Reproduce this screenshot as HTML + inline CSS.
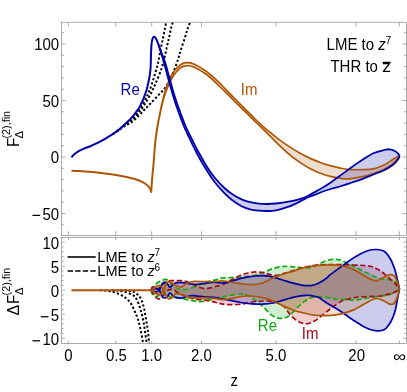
<!DOCTYPE html>
<html><head><meta charset="utf-8"><title>plot</title>
<style>html,body{margin:0;padding:0;background:#fff}svg{display:block}</style></head>
<body>
<svg width="407" height="392" viewBox="0 0 407 392">
<defs><clipPath id="cu"><rect x="61.5" y="22.2" width="344.9" height="213.3"/></clipPath><clipPath id="cl"><rect x="61.5" y="237.4" width="344.9" height="106"/></clipPath></defs>
<rect width="407" height="392" fill="#fff"/>
<g clip-path="url(#cu)" fill="none" stroke-linejoin="round" stroke-linecap="butt">
<path d="M161.60 105.70 C161.97 104.08 163.05 98.90 163.80 96.00 C164.55 93.10 165.15 91.05 166.10 88.30 C167.05 85.55 168.08 82.47 169.50 79.50 C170.92 76.53 172.68 73.00 174.60 70.50 C176.52 68.00 179.10 65.82 181.00 64.50 C182.90 63.18 183.87 62.68 186.00 62.60 C188.13 62.52 190.38 62.52 193.80 64.00 C197.22 65.48 202.25 68.38 206.50 71.50 C210.75 74.62 216.22 79.85 219.30 82.70 C222.38 85.55 222.35 85.88 225.00 88.60 C227.65 91.32 231.80 95.55 235.20 99.00 C238.60 102.45 242.00 105.88 245.40 109.30 C248.80 112.72 252.20 116.25 255.60 119.50 C259.00 122.75 263.40 126.68 265.80 128.80 C268.20 130.92 267.60 130.27 270.00 132.20 C272.40 134.13 276.80 137.87 280.20 140.40 C283.60 142.93 287.00 145.22 290.40 147.40 C293.80 149.58 297.20 151.63 300.60 153.50 C304.00 155.37 307.40 157.07 310.80 158.60 C314.20 160.13 317.60 161.48 321.00 162.70 C324.40 163.92 327.80 164.97 331.20 165.90 C334.60 166.83 338.27 167.68 341.40 168.30 C344.53 168.92 346.43 169.38 350.00 169.60 C353.57 169.82 358.90 169.73 362.80 169.60 C366.70 169.47 369.85 169.57 373.40 168.80 C376.95 168.03 380.88 166.53 384.10 165.00 C387.32 163.47 390.38 161.00 392.70 159.60 C395.02 158.20 396.83 157.13 398.00 156.60 C399.17 156.07 399.42 156.43 399.70 156.40 L399.70 156.40 C399.42 156.75 399.17 157.25 398.00 158.50 C396.83 159.75 395.02 162.12 392.70 163.90 C390.38 165.68 387.32 167.60 384.10 169.20 C380.88 170.80 376.95 172.25 373.40 173.50 C369.85 174.75 366.70 175.82 362.80 176.70 C358.90 177.58 353.57 178.50 350.00 178.80 C346.43 179.10 344.53 178.85 341.40 178.50 C338.27 178.15 334.60 177.53 331.20 176.70 C327.80 175.87 324.40 174.78 321.00 173.50 C317.60 172.22 314.20 170.77 310.80 169.00 C307.40 167.23 304.00 165.17 300.60 162.90 C297.20 160.63 293.80 158.18 290.40 155.40 C287.00 152.62 283.60 149.43 280.20 146.20 C276.80 142.97 272.40 138.40 270.00 136.00 C267.60 133.60 268.20 134.17 265.80 131.80 C263.40 129.43 259.00 125.12 255.60 121.80 C252.20 118.48 248.80 115.22 245.40 111.90 C242.00 108.58 238.60 105.28 235.20 101.90 C231.80 98.52 227.65 94.25 225.00 91.60 C222.35 88.95 222.38 88.85 219.30 86.00 C216.22 83.15 210.75 77.67 206.50 74.50 C202.25 71.33 197.22 68.45 193.80 67.00 C190.38 65.55 188.13 65.72 186.00 65.80 C183.87 65.88 182.83 66.22 181.00 67.50 C179.17 68.78 176.83 71.08 175.00 73.50 C173.17 75.92 171.42 79.25 170.00 82.00 C168.58 84.75 167.50 87.42 166.50 90.00 C165.50 92.58 164.82 94.88 164.00 97.50 C163.18 100.12 162.00 104.33 161.60 105.70 Z" fill="#ad5606" fill-opacity="0.2" stroke="none"/>
<path d="M158.40 44.30 C158.75 45.28 159.70 48.02 160.53 50.20 C161.36 52.38 162.45 54.85 163.37 57.40 C164.29 59.95 165.10 62.32 166.05 65.50 C167.00 68.68 167.73 71.75 169.05 76.50 C170.37 81.25 172.28 88.58 173.95 94.00 C175.62 99.42 177.12 103.67 179.05 109.00 C180.98 114.33 183.63 121.43 185.55 126.00 C187.47 130.57 188.40 132.07 190.55 136.40 C192.70 140.73 195.66 146.83 198.47 152.00 C201.28 157.17 204.66 163.07 207.41 167.40 C210.16 171.73 212.17 174.57 215.00 178.00 C217.83 181.43 221.57 185.33 224.40 188.00 C227.23 190.67 229.13 192.10 232.00 194.00 C234.87 195.90 238.60 198.03 241.60 199.40 C244.60 200.77 247.13 201.50 250.00 202.20 C252.87 202.90 255.97 203.30 258.80 203.60 C261.63 203.90 264.13 204.02 267.00 204.00 C269.87 203.98 272.63 203.87 276.00 203.50 C279.37 203.13 283.70 202.42 287.20 201.80 C290.70 201.18 294.13 200.52 297.00 199.80 C299.87 199.08 301.90 198.53 304.40 197.50 C306.90 196.47 309.13 195.13 312.00 193.60 C314.87 192.07 318.48 190.17 321.60 188.30 C324.72 186.43 327.40 184.65 330.70 182.40 C334.00 180.15 337.85 177.37 341.40 174.80 C344.95 172.23 348.43 169.53 352.00 167.00 C355.57 164.47 359.23 161.90 362.80 159.60 C366.37 157.30 369.85 154.80 373.40 153.20 C376.95 151.60 381.42 150.65 384.10 150.00 C386.78 149.35 387.72 149.13 389.50 149.30 C391.28 149.47 393.33 150.25 394.80 151.00 C396.27 151.75 397.48 152.90 398.30 153.80 C399.12 154.70 399.47 155.97 399.70 156.40 L399.70 156.40 C399.25 157.12 398.17 159.27 397.00 160.70 C395.83 162.13 394.85 163.40 392.70 165.00 C390.55 166.60 387.32 168.72 384.10 170.30 C380.88 171.88 376.95 173.08 373.40 174.50 C369.85 175.92 366.37 177.47 362.80 178.80 C359.23 180.13 355.57 181.30 352.00 182.50 C348.43 183.70 344.95 184.92 341.40 186.00 C337.85 187.08 334.00 188.00 330.70 189.00 C327.40 190.00 324.72 190.85 321.60 192.00 C318.48 193.15 314.87 194.72 312.00 195.90 C309.13 197.08 306.90 197.92 304.40 199.10 C301.90 200.28 299.87 201.65 297.00 203.00 C294.13 204.35 290.70 205.97 287.20 207.20 C283.70 208.43 279.37 209.77 276.00 210.40 C272.63 211.03 269.87 210.97 267.00 211.00 C264.13 211.03 261.63 210.88 258.80 210.60 C255.97 210.32 252.87 210.02 250.00 209.30 C247.13 208.58 244.60 207.85 241.60 206.30 C238.60 204.75 234.87 202.18 232.00 200.00 C229.13 197.82 227.23 196.12 224.40 193.20 C221.57 190.28 217.90 186.23 215.00 182.50 C212.10 178.77 209.90 175.47 206.99 170.80 C204.08 166.13 200.45 159.93 197.53 154.50 C194.61 149.07 191.63 142.70 189.45 138.20 C187.27 133.70 186.37 132.12 184.45 127.50 C182.53 122.88 179.88 115.92 177.95 110.50 C176.02 105.08 174.52 100.50 172.85 95.00 C171.18 89.50 169.27 82.30 167.95 77.50 C166.63 72.70 165.84 69.47 164.95 66.20 C164.06 62.93 163.41 60.50 162.63 57.90 C161.85 55.30 160.98 52.87 160.27 50.60 C159.56 48.33 158.71 45.35 158.40 44.30 Z" fill="#0000aa" fill-opacity="0.2" stroke="none"/>
<path d="M112.80 134.10 C113.85 133.35 116.98 131.25 119.10 129.60 C121.22 127.95 123.37 126.03 125.50 124.20 C127.63 122.37 129.77 120.80 131.90 118.60 C134.03 116.40 136.18 113.97 138.30 111.00 C140.42 108.03 142.92 103.80 144.60 100.80 C146.28 97.80 147.20 95.75 148.40 93.00 C149.60 90.25 150.47 88.30 151.80 84.30 C153.13 80.30 155.38 72.43 156.40 69.00 C157.42 65.57 157.23 66.80 157.90 63.70 C158.57 60.60 159.55 54.65 160.40 50.40 C161.25 46.15 162.23 41.93 163.00 38.20 C163.77 34.47 164.47 30.70 165.00 28.00 C165.53 25.30 166.00 23.00 166.20 22.00" stroke="#000" stroke-width="2" stroke-dasharray="2.2 2.1"/>
<path d="M112.80 134.10 C113.85 133.37 116.98 131.27 119.10 129.70 C121.22 128.13 123.37 126.32 125.50 124.70 C127.63 123.08 129.77 121.92 131.90 120.00 C134.03 118.08 136.18 115.78 138.30 113.20 C140.42 110.62 142.50 107.78 144.60 104.50 C146.70 101.22 149.10 96.95 150.90 93.50 C152.70 90.05 153.65 87.88 155.40 83.80 C157.15 79.72 159.88 73.37 161.40 69.00 C162.92 64.63 163.57 61.37 164.50 57.60 C165.43 53.83 166.23 49.80 167.00 46.40 C167.77 43.00 168.42 40.27 169.10 37.20 C169.78 34.13 170.48 30.53 171.10 28.00 C171.72 25.47 172.52 23.00 172.80 22.00" stroke="#000" stroke-width="2" stroke-dasharray="2.2 2.1"/>
<path d="M112.80 134.10 C113.85 133.40 116.98 131.33 119.10 129.90 C121.22 128.47 123.37 126.82 125.50 125.50 C127.63 124.18 129.77 123.55 131.90 122.00 C134.03 120.45 136.18 118.28 138.30 116.20 C140.42 114.12 142.65 111.53 144.60 109.50 C146.55 107.47 147.92 106.17 150.00 104.00 C152.08 101.83 154.58 99.18 157.10 96.50 C159.62 93.82 162.82 90.98 165.10 87.90 C167.38 84.82 169.15 81.32 170.80 78.00 C172.45 74.68 173.70 71.40 175.00 68.00 C176.30 64.60 177.63 60.60 178.60 57.60 C179.57 54.60 179.77 53.27 180.80 50.00 C181.83 46.73 183.68 41.50 184.80 38.00 C185.92 34.50 186.58 31.67 187.50 29.00 C188.42 26.33 189.83 23.17 190.30 22.00" stroke="#000" stroke-width="2" stroke-dasharray="2.2 2.1"/>
<path d="M71.50 170.70 C72.58 170.75 75.82 170.88 78.00 171.00 C80.18 171.12 81.45 171.17 84.60 171.40 C87.75 171.63 92.82 171.98 96.90 172.40 C100.98 172.82 105.02 173.32 109.10 173.90 C113.18 174.48 117.30 175.08 121.40 175.90 C125.50 176.72 130.42 177.90 133.70 178.80 C136.98 179.70 139.05 180.40 141.10 181.30 C143.15 182.20 144.57 183.10 146.00 184.20 C147.43 185.30 148.82 186.60 149.70 187.90 C150.58 189.20 151.03 191.32 151.30 192.00" stroke="#ad5606" stroke-width="2"/>
<path d="M151.20 192.00 C151.37 189.67 151.80 182.83 152.20 178.00 C152.60 173.17 153.05 169.33 153.60 163.00 C154.15 156.67 154.77 146.57 155.50 140.00 C156.23 133.43 156.98 129.32 158.00 123.60 C159.02 117.88 161.00 108.68 161.60 105.70" stroke="#ad5606" stroke-width="2" stroke-linecap="round"/>
<path d="M161.60 105.70 C161.97 104.08 163.05 98.90 163.80 96.00 C164.55 93.10 165.15 91.05 166.10 88.30 C167.05 85.55 168.08 82.47 169.50 79.50 C170.92 76.53 172.68 73.00 174.60 70.50 C176.52 68.00 179.10 65.82 181.00 64.50 C182.90 63.18 183.87 62.68 186.00 62.60 C188.13 62.52 190.38 62.52 193.80 64.00 C197.22 65.48 202.25 68.38 206.50 71.50 C210.75 74.62 216.22 79.85 219.30 82.70 C222.38 85.55 222.35 85.88 225.00 88.60 C227.65 91.32 231.80 95.55 235.20 99.00 C238.60 102.45 242.00 105.88 245.40 109.30 C248.80 112.72 252.20 116.25 255.60 119.50 C259.00 122.75 263.40 126.68 265.80 128.80 C268.20 130.92 267.60 130.27 270.00 132.20 C272.40 134.13 276.80 137.87 280.20 140.40 C283.60 142.93 287.00 145.22 290.40 147.40 C293.80 149.58 297.20 151.63 300.60 153.50 C304.00 155.37 307.40 157.07 310.80 158.60 C314.20 160.13 317.60 161.48 321.00 162.70 C324.40 163.92 327.80 164.97 331.20 165.90 C334.60 166.83 338.27 167.68 341.40 168.30 C344.53 168.92 346.43 169.38 350.00 169.60 C353.57 169.82 358.90 169.73 362.80 169.60 C366.70 169.47 369.85 169.57 373.40 168.80 C376.95 168.03 380.88 166.53 384.10 165.00 C387.32 163.47 390.38 161.00 392.70 159.60 C395.02 158.20 396.83 157.13 398.00 156.60 C399.17 156.07 399.42 156.43 399.70 156.40" stroke="#ad5606" stroke-width="1.7"/>
<path d="M161.60 105.70 C162.00 104.33 163.18 100.12 164.00 97.50 C164.82 94.88 165.50 92.58 166.50 90.00 C167.50 87.42 168.58 84.75 170.00 82.00 C171.42 79.25 173.17 75.92 175.00 73.50 C176.83 71.08 179.17 68.78 181.00 67.50 C182.83 66.22 183.87 65.88 186.00 65.80 C188.13 65.72 190.38 65.55 193.80 67.00 C197.22 68.45 202.25 71.33 206.50 74.50 C210.75 77.67 216.22 83.15 219.30 86.00 C222.38 88.85 222.35 88.95 225.00 91.60 C227.65 94.25 231.80 98.52 235.20 101.90 C238.60 105.28 242.00 108.58 245.40 111.90 C248.80 115.22 252.20 118.48 255.60 121.80 C259.00 125.12 263.40 129.43 265.80 131.80 C268.20 134.17 267.60 133.60 270.00 136.00 C272.40 138.40 276.80 142.97 280.20 146.20 C283.60 149.43 287.00 152.62 290.40 155.40 C293.80 158.18 297.20 160.63 300.60 162.90 C304.00 165.17 307.40 167.23 310.80 169.00 C314.20 170.77 317.60 172.22 321.00 173.50 C324.40 174.78 327.80 175.87 331.20 176.70 C334.60 177.53 338.27 178.15 341.40 178.50 C344.53 178.85 346.43 179.10 350.00 178.80 C353.57 178.50 358.90 177.58 362.80 176.70 C366.70 175.82 369.85 174.75 373.40 173.50 C376.95 172.25 380.88 170.80 384.10 169.20 C387.32 167.60 390.38 165.68 392.70 163.90 C395.02 162.12 396.83 159.75 398.00 158.50 C399.17 157.25 399.42 156.75 399.70 156.40" stroke="#ad5606" stroke-width="1.7"/>
<path d="M71.40 157.40 C71.83 156.92 72.85 155.52 74.00 154.50 C75.15 153.48 76.63 152.28 78.30 151.30 C79.97 150.32 81.88 149.48 84.00 148.60 C86.12 147.72 88.83 146.90 91.00 146.00 C93.17 145.10 95.50 143.92 97.00 143.20 C98.50 142.48 98.50 142.52 100.00 141.70 C101.50 140.88 103.87 139.57 106.00 138.30 C108.13 137.03 110.62 135.57 112.80 134.10 C114.98 132.63 116.98 131.22 119.10 129.50 C121.22 127.78 123.37 125.82 125.50 123.80 C127.63 121.78 129.77 119.85 131.90 117.40 C134.03 114.95 136.78 111.33 138.30 109.10 C139.82 106.87 140.15 105.70 141.00 104.00 C141.85 102.30 142.70 100.57 143.40 98.90 C144.10 97.23 144.67 95.48 145.20 94.00 C145.73 92.52 146.13 91.67 146.60 90.00 C147.07 88.33 147.55 86.00 148.00 84.00 C148.45 82.00 148.93 80.00 149.30 78.00 C149.67 76.00 149.97 74.00 150.20 72.00 C150.43 70.00 150.57 69.00 150.70 66.00 C150.83 63.00 150.85 57.75 151.00 54.00 C151.15 50.25 151.33 46.07 151.60 43.50 C151.87 40.93 152.15 39.72 152.60 38.60 C153.05 37.48 153.68 36.70 154.30 36.80 C154.92 36.90 155.62 37.95 156.30 39.20 C156.98 40.45 158.05 43.45 158.40 44.30" stroke="#0000aa" stroke-width="2"/>
<path d="M158.40 44.30 C158.75 45.28 159.70 48.02 160.53 50.20 C161.36 52.38 162.45 54.85 163.37 57.40 C164.29 59.95 165.10 62.32 166.05 65.50 C167.00 68.68 167.73 71.75 169.05 76.50 C170.37 81.25 172.28 88.58 173.95 94.00 C175.62 99.42 177.12 103.67 179.05 109.00 C180.98 114.33 183.63 121.43 185.55 126.00 C187.47 130.57 188.40 132.07 190.55 136.40 C192.70 140.73 195.66 146.83 198.47 152.00 C201.28 157.17 204.66 163.07 207.41 167.40 C210.16 171.73 212.17 174.57 215.00 178.00 C217.83 181.43 221.57 185.33 224.40 188.00 C227.23 190.67 229.13 192.10 232.00 194.00 C234.87 195.90 238.60 198.03 241.60 199.40 C244.60 200.77 247.13 201.50 250.00 202.20 C252.87 202.90 255.97 203.30 258.80 203.60 C261.63 203.90 264.13 204.02 267.00 204.00 C269.87 203.98 272.63 203.87 276.00 203.50 C279.37 203.13 283.70 202.42 287.20 201.80 C290.70 201.18 294.13 200.52 297.00 199.80 C299.87 199.08 301.90 198.53 304.40 197.50 C306.90 196.47 309.13 195.13 312.00 193.60 C314.87 192.07 318.48 190.17 321.60 188.30 C324.72 186.43 327.40 184.65 330.70 182.40 C334.00 180.15 337.85 177.37 341.40 174.80 C344.95 172.23 348.43 169.53 352.00 167.00 C355.57 164.47 359.23 161.90 362.80 159.60 C366.37 157.30 369.85 154.80 373.40 153.20 C376.95 151.60 381.42 150.65 384.10 150.00 C386.78 149.35 387.72 149.13 389.50 149.30 C391.28 149.47 393.33 150.25 394.80 151.00 C396.27 151.75 397.48 152.90 398.30 153.80 C399.12 154.70 399.47 155.97 399.70 156.40" stroke="#0000aa" stroke-width="1.8"/>
<path d="M158.40 44.30 C158.71 45.35 159.56 48.33 160.27 50.60 C160.98 52.87 161.85 55.30 162.63 57.90 C163.41 60.50 164.06 62.93 164.95 66.20 C165.84 69.47 166.63 72.70 167.95 77.50 C169.27 82.30 171.18 89.50 172.85 95.00 C174.52 100.50 176.02 105.08 177.95 110.50 C179.88 115.92 182.53 122.88 184.45 127.50 C186.37 132.12 187.27 133.70 189.45 138.20 C191.63 142.70 194.61 149.07 197.53 154.50 C200.45 159.93 204.08 166.13 206.99 170.80 C209.90 175.47 212.10 178.77 215.00 182.50 C217.90 186.23 221.57 190.28 224.40 193.20 C227.23 196.12 229.13 197.82 232.00 200.00 C234.87 202.18 238.60 204.75 241.60 206.30 C244.60 207.85 247.13 208.58 250.00 209.30 C252.87 210.02 255.97 210.32 258.80 210.60 C261.63 210.88 264.13 211.03 267.00 211.00 C269.87 210.97 272.63 211.03 276.00 210.40 C279.37 209.77 283.70 208.43 287.20 207.20 C290.70 205.97 294.13 204.35 297.00 203.00 C299.87 201.65 301.90 200.28 304.40 199.10 C306.90 197.92 309.13 197.08 312.00 195.90 C314.87 194.72 318.48 193.15 321.60 192.00 C324.72 190.85 327.40 190.00 330.70 189.00 C334.00 188.00 337.85 187.08 341.40 186.00 C344.95 184.92 348.43 183.70 352.00 182.50 C355.57 181.30 359.23 180.13 362.80 178.80 C366.37 177.47 369.85 175.92 373.40 174.50 C376.95 173.08 380.88 171.88 384.10 170.30 C387.32 168.72 390.55 166.60 392.70 165.00 C394.85 163.40 395.83 162.13 397.00 160.70 C398.17 159.27 399.25 157.12 399.70 156.40" stroke="#0000aa" stroke-width="1.8"/>
</g>
<g clip-path="url(#cl)" fill="none" stroke-linejoin="round">
<path d="M151.00 290.20 C151.33 289.92 152.25 289.45 153.00 288.50 C153.75 287.55 154.58 285.58 155.50 284.50 C156.42 283.42 157.58 282.58 158.50 282.00 C159.42 281.42 159.97 281.43 161.00 281.00 C162.03 280.57 163.62 279.57 164.70 279.40 C165.78 279.23 166.53 279.40 167.50 280.00 C168.47 280.60 169.58 282.17 170.50 283.00 C171.42 283.83 172.08 284.25 173.00 285.00 C173.92 285.75 175.17 286.88 176.00 287.50 C176.83 288.12 177.02 288.37 178.00 288.70 C178.98 289.03 180.60 289.37 181.90 289.50 C183.20 289.63 184.33 289.70 185.80 289.50 C187.27 289.30 189.05 288.83 190.70 288.30 C192.35 287.77 194.05 286.97 195.70 286.30 C197.35 285.63 198.97 284.92 200.60 284.30 C202.23 283.68 203.87 283.17 205.50 282.60 C207.13 282.03 208.65 281.35 210.40 280.90 C212.15 280.45 214.13 280.38 216.00 279.90 C217.87 279.42 217.80 278.45 221.60 278.00 C225.40 277.55 233.78 277.57 238.80 277.20 C243.82 276.83 247.75 276.53 251.70 275.80 C255.65 275.07 258.88 274.03 262.50 272.80 C266.12 271.57 269.78 269.48 273.40 268.40 C277.02 267.32 280.60 266.53 284.20 266.30 C287.80 266.07 291.38 266.72 295.00 267.00 C298.62 267.28 302.90 268.08 305.90 268.00 C308.90 267.92 310.85 267.17 313.00 266.50 C315.15 265.83 316.50 264.98 318.80 264.00 C321.10 263.02 324.12 261.38 326.80 260.60 C329.48 259.82 332.22 259.23 334.90 259.30 C337.58 259.37 339.55 259.72 342.90 261.00 C346.25 262.28 350.90 264.97 355.00 267.00 C359.10 269.03 363.33 271.27 367.50 273.20 C371.67 275.13 376.25 277.53 380.00 278.60 C383.75 279.67 387.42 279.03 390.00 279.60 C392.58 280.17 394.12 281.02 395.50 282.00 C396.88 282.98 397.63 284.33 398.30 285.50 C398.97 286.67 399.30 288.42 399.50 289.00 L399.50 289.00 C398.83 289.50 397.08 291.08 395.50 292.00 C393.92 292.92 392.52 293.78 390.00 294.50 C387.48 295.22 384.15 295.72 380.40 296.30 C376.65 296.88 371.73 297.38 367.50 298.00 C363.27 298.62 359.17 299.75 355.00 300.00 C350.83 300.25 345.83 299.67 342.50 299.50 C339.17 299.33 337.72 299.35 335.00 299.00 C332.28 298.65 329.27 297.75 326.20 297.40 C323.13 297.05 319.15 296.80 316.60 296.90 C314.05 297.00 312.80 297.33 310.90 298.00 C309.00 298.67 307.12 299.62 305.20 300.90 C303.28 302.18 301.32 303.95 299.40 305.70 C297.48 307.45 295.60 309.58 293.70 311.40 C291.80 313.22 289.92 315.43 288.00 316.60 C286.08 317.77 284.12 318.22 282.20 318.40 C280.28 318.58 278.42 318.38 276.50 317.70 C274.58 317.02 272.62 315.82 270.70 314.30 C268.78 312.78 266.62 310.15 265.00 308.60 C263.38 307.05 262.50 306.27 261.00 305.00 C259.50 303.73 258.17 302.58 256.00 301.00 C253.83 299.42 250.53 296.67 248.00 295.50 C245.47 294.33 244.33 293.92 240.80 294.00 C237.27 294.08 231.43 295.22 226.80 296.00 C222.17 296.78 216.55 297.87 213.00 298.70 C209.45 299.53 207.57 300.50 205.50 301.00 C203.43 301.50 202.23 301.65 200.60 301.70 C198.97 301.75 197.35 301.53 195.70 301.30 C194.05 301.07 192.35 300.62 190.70 300.30 C189.05 299.98 187.42 299.70 185.80 299.40 C184.18 299.10 182.63 298.85 181.00 298.50 C179.37 298.15 177.33 297.47 176.00 297.30 C174.67 297.13 174.00 297.55 173.00 297.50 C172.00 297.45 171.00 297.50 170.00 297.00 C169.00 296.50 168.00 295.25 167.00 294.50 C166.00 293.75 165.00 292.67 164.00 292.50 C163.00 292.33 162.00 292.92 161.00 293.50 C160.00 294.08 159.00 295.42 158.00 296.00 C157.00 296.58 155.92 297.25 155.00 297.00 C154.08 296.75 153.17 295.63 152.50 294.50 C151.83 293.37 151.25 290.92 151.00 290.20 Z" fill="#11aa11" fill-opacity="0.2" stroke="none"/>
<path d="M151.00 290.20 C151.17 289.72 151.50 287.83 152.00 287.30 C152.50 286.77 153.25 286.67 154.00 287.00 C154.75 287.33 155.67 289.13 156.50 289.30 C157.33 289.47 157.92 288.88 159.00 288.00 C160.08 287.12 161.67 285.08 163.00 284.00 C164.33 282.92 165.83 282.05 167.00 281.50 C168.17 280.95 168.75 280.83 170.00 280.70 C171.25 280.57 172.67 280.70 174.50 280.70 C176.33 280.70 179.12 280.58 181.00 280.70 C182.88 280.82 184.18 280.93 185.80 281.40 C187.42 281.87 189.05 282.77 190.70 283.50 C192.35 284.23 194.05 285.08 195.70 285.80 C197.35 286.52 198.97 287.32 200.60 287.80 C202.23 288.28 203.87 288.70 205.50 288.70 C207.13 288.70 208.65 288.20 210.40 287.80 C212.15 287.40 214.13 286.77 216.00 286.30 C217.87 285.83 219.93 285.55 221.60 285.00 C223.27 284.45 224.10 283.98 226.00 283.00 C227.90 282.02 230.57 280.38 233.00 279.10 C235.43 277.82 238.05 276.32 240.60 275.30 C243.15 274.28 245.73 273.57 248.30 273.00 C250.87 272.43 253.45 271.97 256.00 271.90 C258.55 271.83 261.27 272.17 263.60 272.60 C265.93 273.03 267.77 274.05 270.00 274.50 C272.23 274.95 274.63 275.48 277.00 275.30 C279.37 275.12 281.20 274.28 284.20 273.40 C287.20 272.52 290.70 271.23 295.00 270.00 C299.30 268.77 304.70 266.90 310.00 266.00 C315.30 265.10 321.77 264.83 326.80 264.60 C331.83 264.37 335.73 264.53 340.20 264.60 C344.67 264.67 349.58 264.85 353.60 265.00 C357.62 265.15 361.17 265.20 364.30 265.50 C367.43 265.80 369.72 265.92 372.40 266.80 C375.08 267.68 377.72 269.02 380.40 270.80 C383.08 272.58 386.03 275.37 388.50 277.50 C390.97 279.63 393.37 281.68 395.20 283.60 C397.03 285.52 398.78 288.10 399.50 289.00 L399.50 289.00 C398.83 289.47 397.08 291.00 395.50 291.80 C393.92 292.60 392.52 293.10 390.00 293.80 C387.48 294.50 384.23 295.53 380.40 296.00 C376.57 296.47 371.23 296.35 367.00 296.60 C362.77 296.85 359.08 296.80 355.00 297.50 C350.92 298.20 345.83 299.48 342.50 300.80 C339.17 302.12 337.08 304.03 335.00 305.40 C332.92 306.77 332.10 307.37 330.00 309.00 C327.90 310.63 324.95 313.20 322.40 315.20 C319.85 317.20 317.42 319.57 314.70 321.00 C311.98 322.43 308.97 323.80 306.10 323.80 C303.23 323.80 300.20 322.58 297.50 321.00 C294.80 319.42 292.12 316.67 289.90 314.30 C287.68 311.93 286.18 308.63 284.20 306.80 C282.22 304.97 279.80 304.18 278.00 303.30 C276.20 302.42 275.98 301.88 273.40 301.50 C270.82 301.12 266.12 300.92 262.50 301.00 C258.88 301.08 255.32 301.47 251.70 302.00 C248.08 302.53 244.38 303.75 240.80 304.20 C237.22 304.65 233.40 304.75 230.20 304.70 C227.00 304.65 223.97 304.27 221.60 303.90 C219.23 303.53 217.87 302.98 216.00 302.50 C214.13 302.02 212.15 301.37 210.40 301.00 C208.65 300.63 207.13 300.52 205.50 300.30 C203.87 300.08 202.23 299.88 200.60 299.70 C198.97 299.52 197.35 299.48 195.70 299.20 C194.05 298.92 192.32 298.45 190.70 298.00 C189.08 297.55 187.62 297.17 186.00 296.50 C184.38 295.83 182.27 294.63 181.00 294.00 C179.73 293.37 179.15 293.08 178.40 292.70 C177.65 292.32 177.32 292.18 176.50 291.70 C175.68 291.22 174.65 290.15 173.50 289.80 C172.35 289.45 170.85 289.23 169.60 289.60 C168.35 289.97 167.10 290.93 166.00 292.00 C164.90 293.07 164.00 294.87 163.00 296.00 C162.00 297.13 160.87 298.33 160.00 298.80 C159.13 299.27 158.47 299.10 157.80 298.80 C157.13 298.50 156.80 297.97 156.00 297.00 C155.20 296.03 153.83 294.13 153.00 293.00 C152.17 291.87 151.33 290.67 151.00 290.20 Z" fill="#aa0a14" fill-opacity="0.2" stroke="none"/>
<path d="M151.00 290.20 C151.50 289.97 153.00 289.08 154.00 288.80 C155.00 288.52 156.08 288.33 157.00 288.50 C157.92 288.67 158.88 290.05 159.50 289.80 C160.12 289.55 160.20 288.05 160.70 287.00 C161.20 285.95 161.92 284.27 162.50 283.50 C163.08 282.73 163.53 282.45 164.20 282.40 C164.87 282.35 165.85 282.80 166.50 283.20 C167.15 283.60 167.52 284.08 168.10 284.80 C168.68 285.52 169.27 287.50 170.00 287.50 C170.73 287.50 171.67 285.52 172.50 284.80 C173.33 284.08 174.08 283.57 175.00 283.20 C175.92 282.83 177.00 282.70 178.00 282.60 C179.00 282.50 179.70 282.53 181.00 282.60 C182.30 282.67 184.18 282.77 185.80 283.00 C187.42 283.23 189.05 283.78 190.70 284.00 C192.35 284.22 194.05 284.33 195.70 284.30 C197.35 284.27 198.97 283.97 200.60 283.80 C202.23 283.63 203.43 283.55 205.50 283.30 C207.57 283.05 210.32 282.35 213.00 282.30 C215.68 282.25 219.27 282.95 221.60 283.00 C223.93 283.05 225.10 282.98 227.00 282.60 C228.90 282.22 230.73 281.40 233.00 280.70 C235.27 280.00 238.05 279.05 240.60 278.40 C243.15 277.75 245.73 277.20 248.30 276.80 C250.87 276.40 253.45 276.20 256.00 276.00 C258.55 275.80 260.70 275.40 263.60 275.60 C266.50 275.80 269.97 276.38 273.40 277.20 C276.83 278.02 280.60 279.43 284.20 280.50 C287.80 281.57 291.87 282.80 295.00 283.60 C298.13 284.40 300.33 284.97 303.00 285.30 C305.67 285.63 308.42 285.93 311.00 285.60 C313.58 285.27 315.87 284.57 318.50 283.30 C321.13 282.03 324.88 279.42 326.80 278.00 C328.72 276.58 327.38 276.83 330.00 274.80 C332.62 272.77 338.33 268.77 342.50 265.80 C346.67 262.83 350.83 259.50 355.00 257.00 C359.17 254.50 363.95 252.05 367.50 250.80 C371.05 249.55 373.47 249.38 376.30 249.50 C379.13 249.62 382.10 249.83 384.50 251.50 C386.90 253.17 388.98 256.50 390.70 259.50 C392.42 262.50 393.68 266.17 394.80 269.50 C395.92 272.83 396.62 276.25 397.40 279.50 C398.18 282.75 399.15 287.42 399.50 289.00 L399.50 289.00 C399.15 290.75 398.18 295.67 397.40 299.50 C396.62 303.33 395.92 308.25 394.80 312.00 C393.68 315.75 392.42 319.08 390.70 322.00 C388.98 324.92 386.90 328.03 384.50 329.50 C382.10 330.97 379.22 331.00 376.30 330.80 C373.38 330.60 370.55 329.88 367.00 328.30 C363.45 326.72 359.47 324.18 355.00 321.30 C350.53 318.42 344.90 314.05 340.20 311.00 C335.50 307.95 330.37 305.23 326.80 303.00 C323.23 300.77 321.27 298.80 318.80 297.60 C316.33 296.40 314.15 296.18 312.00 295.80 C309.85 295.42 308.73 295.13 305.90 295.30 C303.07 295.47 298.62 296.03 295.00 296.80 C291.38 297.57 287.80 298.87 284.20 299.90 C280.60 300.93 277.02 302.28 273.40 303.00 C269.78 303.72 266.12 304.07 262.50 304.20 C258.88 304.33 255.32 304.08 251.70 303.80 C248.08 303.52 244.42 303.08 240.80 302.50 C237.18 301.92 233.20 300.92 230.00 300.30 C226.80 299.68 224.43 299.28 221.60 298.80 C218.77 298.32 215.68 297.68 213.00 297.40 C210.32 297.12 207.57 297.27 205.50 297.10 C203.43 296.93 202.23 296.62 200.60 296.40 C198.97 296.18 197.35 295.90 195.70 295.80 C194.05 295.70 192.35 295.60 190.70 295.80 C189.05 296.00 187.42 296.62 185.80 297.00 C184.18 297.38 182.30 297.95 181.00 298.10 C179.70 298.25 179.00 298.05 178.00 297.90 C177.00 297.75 175.92 297.58 175.00 297.20 C174.08 296.82 173.33 296.32 172.50 295.60 C171.67 294.88 170.73 292.90 170.00 292.90 C169.27 292.90 168.68 294.88 168.10 295.60 C167.52 296.32 167.15 296.80 166.50 297.20 C165.85 297.60 164.87 298.05 164.20 298.00 C163.53 297.95 163.08 297.67 162.50 296.90 C161.92 296.13 161.20 294.45 160.70 293.40 C160.20 292.35 160.12 290.85 159.50 290.60 C158.88 290.35 157.92 291.73 157.00 291.90 C156.08 292.07 155.00 291.88 154.00 291.60 C153.00 291.32 151.50 290.43 151.00 290.20 Z" fill="#0000aa" fill-opacity="0.2" stroke="none"/>
<path d="M151.00 290.20 C151.80 290.70 154.50 292.47 155.80 293.20 C157.10 293.93 157.98 294.45 158.80 294.60 C159.62 294.75 159.88 294.87 160.70 294.10 C161.52 293.33 162.87 291.63 163.70 290.00 C164.53 288.37 164.97 285.68 165.70 284.30 C166.43 282.92 167.28 282.10 168.10 281.70 C168.92 281.30 169.70 281.48 170.60 281.90 C171.50 282.32 172.60 283.63 173.50 284.20 C174.40 284.77 174.92 284.87 176.00 285.30 C177.08 285.73 178.83 286.63 180.00 286.80 C181.17 286.97 182.03 286.80 183.00 286.30 C183.97 285.80 184.52 284.52 185.80 283.80 C187.08 283.08 189.05 282.40 190.70 282.00 C192.35 281.60 193.23 281.45 195.70 281.40 C198.17 281.35 202.12 281.65 205.50 281.70 C208.88 281.75 213.32 281.85 216.00 281.70 C218.68 281.55 219.27 280.75 221.60 280.80 C223.93 280.85 226.80 281.53 230.00 282.00 C233.20 282.47 237.18 283.15 240.80 283.60 C244.42 284.05 248.08 284.80 251.70 284.70 C255.32 284.60 258.88 284.15 262.50 283.00 C266.12 281.85 269.78 279.33 273.40 277.80 C277.02 276.27 280.60 275.00 284.20 273.80 C287.80 272.60 292.37 271.47 295.00 270.60 C297.63 269.73 296.93 269.37 300.00 268.60 C303.07 267.83 308.93 266.60 313.40 266.00 C317.87 265.40 322.33 265.08 326.80 265.00 C331.27 264.92 335.73 264.75 340.20 265.50 C344.67 266.25 349.13 267.50 353.60 269.50 C358.07 271.50 363.22 275.62 367.00 277.50 C370.78 279.38 373.50 280.85 376.30 280.80 C379.10 280.75 381.52 278.23 383.80 277.20 C386.08 276.17 388.25 274.83 390.00 274.60 C391.75 274.37 393.08 274.57 394.30 275.80 C395.52 277.03 396.43 279.80 397.30 282.00 C398.17 284.20 399.13 287.83 399.50 289.00 L399.50 289.00 C399.13 290.33 398.17 294.63 397.30 297.00 C396.43 299.37 395.52 301.98 394.30 303.20 C393.08 304.42 391.75 304.70 390.00 304.30 C388.25 303.90 386.08 301.77 383.80 300.80 C381.52 299.83 379.10 298.23 376.30 298.50 C373.50 298.77 370.78 300.50 367.00 302.40 C363.22 304.30 358.07 307.93 353.60 309.90 C349.13 311.87 344.67 313.25 340.20 314.20 C335.73 315.15 331.27 315.47 326.80 315.60 C322.33 315.73 317.87 315.60 313.40 315.00 C308.93 314.40 303.07 312.72 300.00 312.00 C296.93 311.28 297.63 311.63 295.00 310.70 C292.37 309.77 287.80 308.02 284.20 306.40 C280.60 304.78 277.02 302.45 273.40 301.00 C269.78 299.55 266.12 298.53 262.50 297.70 C258.88 296.87 255.32 296.18 251.70 296.00 C248.08 295.82 244.42 296.13 240.80 296.60 C237.18 297.07 233.20 298.30 230.00 298.80 C226.80 299.30 223.93 299.63 221.60 299.60 C219.27 299.57 218.68 298.88 216.00 298.60 C213.32 298.32 208.88 298.02 205.50 297.90 C202.12 297.78 198.17 297.95 195.70 297.90 C193.23 297.85 192.35 297.90 190.70 297.60 C189.05 297.30 187.42 296.60 185.80 296.10 C184.18 295.60 182.63 295.00 181.00 294.60 C179.37 294.20 177.25 293.45 176.00 293.70 C174.75 293.95 174.40 295.28 173.50 296.10 C172.60 296.92 171.50 298.18 170.60 298.60 C169.70 299.02 168.92 299.18 168.10 298.60 C167.28 298.02 166.43 296.53 165.70 295.10 C164.97 293.67 164.37 291.38 163.70 290.00 C163.03 288.62 162.35 287.53 161.70 286.80 C161.05 286.07 160.62 285.75 159.80 285.60 C158.98 285.45 157.85 285.33 156.80 285.90 C155.75 286.47 154.47 288.28 153.50 289.00 C152.53 289.72 151.42 290.00 151.00 290.20 Z" fill="#ad5606" fill-opacity="0.2" stroke="none"/>
<path d="M100.00 290.20 C101.33 290.30 105.23 290.33 108.00 290.80 C110.77 291.27 113.78 291.90 116.60 293.00 C119.42 294.10 122.55 295.70 124.90 297.40 C127.25 299.10 129.05 300.85 130.70 303.20 C132.35 305.55 133.57 308.73 134.80 311.50 C136.03 314.27 137.13 316.75 138.10 319.80 C139.07 322.85 139.82 326.20 140.60 329.80 C141.38 333.40 142.37 339.12 142.80 341.40 C143.23 343.68 143.13 343.15 143.20 343.50" stroke="#000" stroke-width="2" stroke-dasharray="2.2 2.1"/>
<path d="M112.00 290.20 C113.00 290.27 115.85 290.30 118.00 290.60 C120.15 290.90 122.37 291.22 124.90 292.00 C127.43 292.78 131.13 293.85 133.20 295.30 C135.27 296.75 136.07 298.27 137.30 300.70 C138.53 303.13 139.63 306.72 140.60 309.90 C141.57 313.08 142.40 316.48 143.10 319.80 C143.80 323.12 144.25 326.20 144.80 329.80 C145.35 333.40 146.08 339.12 146.40 341.40 C146.72 343.68 146.65 343.15 146.70 343.50" stroke="#000" stroke-width="2" stroke-dasharray="2.2 2.1"/>
<path d="M120.00 290.20 C121.17 290.25 124.80 290.27 127.00 290.50 C129.20 290.73 131.35 290.85 133.20 291.60 C135.05 292.35 136.72 293.60 138.10 295.00 C139.48 296.40 140.52 297.80 141.50 300.00 C142.48 302.20 143.23 304.90 144.00 308.20 C144.77 311.50 145.47 316.20 146.10 319.80 C146.73 323.40 147.33 326.20 147.80 329.80 C148.27 333.40 148.68 339.12 148.90 341.40 C149.12 343.68 149.07 343.15 149.10 343.50" stroke="#000" stroke-width="2" stroke-dasharray="2.2 2.1"/>
<path d="M151.00 290.20 C151.33 289.92 152.25 289.45 153.00 288.50 C153.75 287.55 154.58 285.58 155.50 284.50 C156.42 283.42 157.58 282.58 158.50 282.00 C159.42 281.42 159.97 281.43 161.00 281.00 C162.03 280.57 163.62 279.57 164.70 279.40 C165.78 279.23 166.53 279.40 167.50 280.00 C168.47 280.60 169.58 282.17 170.50 283.00 C171.42 283.83 172.08 284.25 173.00 285.00 C173.92 285.75 175.17 286.88 176.00 287.50 C176.83 288.12 177.02 288.37 178.00 288.70 C178.98 289.03 180.60 289.37 181.90 289.50 C183.20 289.63 184.33 289.70 185.80 289.50 C187.27 289.30 189.05 288.83 190.70 288.30 C192.35 287.77 194.05 286.97 195.70 286.30 C197.35 285.63 198.97 284.92 200.60 284.30 C202.23 283.68 203.87 283.17 205.50 282.60 C207.13 282.03 208.65 281.35 210.40 280.90 C212.15 280.45 214.13 280.38 216.00 279.90 C217.87 279.42 217.80 278.45 221.60 278.00 C225.40 277.55 233.78 277.57 238.80 277.20 C243.82 276.83 247.75 276.53 251.70 275.80 C255.65 275.07 258.88 274.03 262.50 272.80 C266.12 271.57 269.78 269.48 273.40 268.40 C277.02 267.32 280.60 266.53 284.20 266.30 C287.80 266.07 291.38 266.72 295.00 267.00 C298.62 267.28 302.90 268.08 305.90 268.00 C308.90 267.92 310.85 267.17 313.00 266.50 C315.15 265.83 316.50 264.98 318.80 264.00 C321.10 263.02 324.12 261.38 326.80 260.60 C329.48 259.82 332.22 259.23 334.90 259.30 C337.58 259.37 339.55 259.72 342.90 261.00 C346.25 262.28 350.90 264.97 355.00 267.00 C359.10 269.03 363.33 271.27 367.50 273.20 C371.67 275.13 376.25 277.53 380.00 278.60 C383.75 279.67 387.42 279.03 390.00 279.60 C392.58 280.17 394.12 281.02 395.50 282.00 C396.88 282.98 397.63 284.33 398.30 285.50 C398.97 286.67 399.30 288.42 399.50 289.00" stroke="#11aa11" stroke-width="1.7" stroke-dasharray="5.3 2.6"/>
<path d="M151.00 290.20 C151.25 290.92 151.83 293.37 152.50 294.50 C153.17 295.63 154.08 296.75 155.00 297.00 C155.92 297.25 157.00 296.58 158.00 296.00 C159.00 295.42 160.00 294.08 161.00 293.50 C162.00 292.92 163.00 292.33 164.00 292.50 C165.00 292.67 166.00 293.75 167.00 294.50 C168.00 295.25 169.00 296.50 170.00 297.00 C171.00 297.50 172.00 297.45 173.00 297.50 C174.00 297.55 174.67 297.13 176.00 297.30 C177.33 297.47 179.37 298.15 181.00 298.50 C182.63 298.85 184.18 299.10 185.80 299.40 C187.42 299.70 189.05 299.98 190.70 300.30 C192.35 300.62 194.05 301.07 195.70 301.30 C197.35 301.53 198.97 301.75 200.60 301.70 C202.23 301.65 203.43 301.50 205.50 301.00 C207.57 300.50 209.45 299.53 213.00 298.70 C216.55 297.87 222.17 296.78 226.80 296.00 C231.43 295.22 237.27 294.08 240.80 294.00 C244.33 293.92 245.47 294.33 248.00 295.50 C250.53 296.67 253.83 299.42 256.00 301.00 C258.17 302.58 259.50 303.73 261.00 305.00 C262.50 306.27 263.38 307.05 265.00 308.60 C266.62 310.15 268.78 312.78 270.70 314.30 C272.62 315.82 274.58 317.02 276.50 317.70 C278.42 318.38 280.28 318.58 282.20 318.40 C284.12 318.22 286.08 317.77 288.00 316.60 C289.92 315.43 291.80 313.22 293.70 311.40 C295.60 309.58 297.48 307.45 299.40 305.70 C301.32 303.95 303.28 302.18 305.20 300.90 C307.12 299.62 309.00 298.67 310.90 298.00 C312.80 297.33 314.05 297.00 316.60 296.90 C319.15 296.80 323.13 297.05 326.20 297.40 C329.27 297.75 332.28 298.65 335.00 299.00 C337.72 299.35 339.17 299.33 342.50 299.50 C345.83 299.67 350.83 300.25 355.00 300.00 C359.17 299.75 363.27 298.62 367.50 298.00 C371.73 297.38 376.65 296.88 380.40 296.30 C384.15 295.72 387.48 295.22 390.00 294.50 C392.52 293.78 393.92 292.92 395.50 292.00 C397.08 291.08 398.83 289.50 399.50 289.00" stroke="#11aa11" stroke-width="1.7" stroke-dasharray="5.3 2.6"/>
<path d="M151.00 290.20 C151.17 289.72 151.50 287.83 152.00 287.30 C152.50 286.77 153.25 286.67 154.00 287.00 C154.75 287.33 155.67 289.13 156.50 289.30 C157.33 289.47 157.92 288.88 159.00 288.00 C160.08 287.12 161.67 285.08 163.00 284.00 C164.33 282.92 165.83 282.05 167.00 281.50 C168.17 280.95 168.75 280.83 170.00 280.70 C171.25 280.57 172.67 280.70 174.50 280.70 C176.33 280.70 179.12 280.58 181.00 280.70 C182.88 280.82 184.18 280.93 185.80 281.40 C187.42 281.87 189.05 282.77 190.70 283.50 C192.35 284.23 194.05 285.08 195.70 285.80 C197.35 286.52 198.97 287.32 200.60 287.80 C202.23 288.28 203.87 288.70 205.50 288.70 C207.13 288.70 208.65 288.20 210.40 287.80 C212.15 287.40 214.13 286.77 216.00 286.30 C217.87 285.83 219.93 285.55 221.60 285.00 C223.27 284.45 224.10 283.98 226.00 283.00 C227.90 282.02 230.57 280.38 233.00 279.10 C235.43 277.82 238.05 276.32 240.60 275.30 C243.15 274.28 245.73 273.57 248.30 273.00 C250.87 272.43 253.45 271.97 256.00 271.90 C258.55 271.83 261.27 272.17 263.60 272.60 C265.93 273.03 267.77 274.05 270.00 274.50 C272.23 274.95 274.63 275.48 277.00 275.30 C279.37 275.12 281.20 274.28 284.20 273.40 C287.20 272.52 290.70 271.23 295.00 270.00 C299.30 268.77 304.70 266.90 310.00 266.00 C315.30 265.10 321.77 264.83 326.80 264.60 C331.83 264.37 335.73 264.53 340.20 264.60 C344.67 264.67 349.58 264.85 353.60 265.00 C357.62 265.15 361.17 265.20 364.30 265.50 C367.43 265.80 369.72 265.92 372.40 266.80 C375.08 267.68 377.72 269.02 380.40 270.80 C383.08 272.58 386.03 275.37 388.50 277.50 C390.97 279.63 393.37 281.68 395.20 283.60 C397.03 285.52 398.78 288.10 399.50 289.00" stroke="#aa0a14" stroke-width="1.7" stroke-dasharray="5.3 2.6"/>
<path d="M151.00 290.20 C151.33 290.67 152.17 291.87 153.00 293.00 C153.83 294.13 155.20 296.03 156.00 297.00 C156.80 297.97 157.13 298.50 157.80 298.80 C158.47 299.10 159.13 299.27 160.00 298.80 C160.87 298.33 162.00 297.13 163.00 296.00 C164.00 294.87 164.90 293.07 166.00 292.00 C167.10 290.93 168.35 289.97 169.60 289.60 C170.85 289.23 172.35 289.45 173.50 289.80 C174.65 290.15 175.68 291.22 176.50 291.70 C177.32 292.18 177.65 292.32 178.40 292.70 C179.15 293.08 179.73 293.37 181.00 294.00 C182.27 294.63 184.38 295.83 186.00 296.50 C187.62 297.17 189.08 297.55 190.70 298.00 C192.32 298.45 194.05 298.92 195.70 299.20 C197.35 299.48 198.97 299.52 200.60 299.70 C202.23 299.88 203.87 300.08 205.50 300.30 C207.13 300.52 208.65 300.63 210.40 301.00 C212.15 301.37 214.13 302.02 216.00 302.50 C217.87 302.98 219.23 303.53 221.60 303.90 C223.97 304.27 227.00 304.65 230.20 304.70 C233.40 304.75 237.22 304.65 240.80 304.20 C244.38 303.75 248.08 302.53 251.70 302.00 C255.32 301.47 258.88 301.08 262.50 301.00 C266.12 300.92 270.82 301.12 273.40 301.50 C275.98 301.88 276.20 302.42 278.00 303.30 C279.80 304.18 282.22 304.97 284.20 306.80 C286.18 308.63 287.68 311.93 289.90 314.30 C292.12 316.67 294.80 319.42 297.50 321.00 C300.20 322.58 303.23 323.80 306.10 323.80 C308.97 323.80 311.98 322.43 314.70 321.00 C317.42 319.57 319.85 317.20 322.40 315.20 C324.95 313.20 327.90 310.63 330.00 309.00 C332.10 307.37 332.92 306.77 335.00 305.40 C337.08 304.03 339.17 302.12 342.50 300.80 C345.83 299.48 350.92 298.20 355.00 297.50 C359.08 296.80 362.77 296.85 367.00 296.60 C371.23 296.35 376.57 296.47 380.40 296.00 C384.23 295.53 387.48 294.50 390.00 293.80 C392.52 293.10 393.92 292.60 395.50 291.80 C397.08 291.00 398.83 289.47 399.50 289.00" stroke="#aa0a14" stroke-width="1.7" stroke-dasharray="5.3 2.6"/>
<path d="M151.00 290.20 C151.50 289.97 153.00 289.08 154.00 288.80 C155.00 288.52 156.08 288.33 157.00 288.50 C157.92 288.67 158.88 290.05 159.50 289.80 C160.12 289.55 160.20 288.05 160.70 287.00 C161.20 285.95 161.92 284.27 162.50 283.50 C163.08 282.73 163.53 282.45 164.20 282.40 C164.87 282.35 165.85 282.80 166.50 283.20 C167.15 283.60 167.52 284.08 168.10 284.80 C168.68 285.52 169.27 287.50 170.00 287.50 C170.73 287.50 171.67 285.52 172.50 284.80 C173.33 284.08 174.08 283.57 175.00 283.20 C175.92 282.83 177.00 282.70 178.00 282.60 C179.00 282.50 179.70 282.53 181.00 282.60 C182.30 282.67 184.18 282.77 185.80 283.00 C187.42 283.23 189.05 283.78 190.70 284.00 C192.35 284.22 194.05 284.33 195.70 284.30 C197.35 284.27 198.97 283.97 200.60 283.80 C202.23 283.63 203.43 283.55 205.50 283.30 C207.57 283.05 210.32 282.35 213.00 282.30 C215.68 282.25 219.27 282.95 221.60 283.00 C223.93 283.05 225.10 282.98 227.00 282.60 C228.90 282.22 230.73 281.40 233.00 280.70 C235.27 280.00 238.05 279.05 240.60 278.40 C243.15 277.75 245.73 277.20 248.30 276.80 C250.87 276.40 253.45 276.20 256.00 276.00 C258.55 275.80 260.70 275.40 263.60 275.60 C266.50 275.80 269.97 276.38 273.40 277.20 C276.83 278.02 280.60 279.43 284.20 280.50 C287.80 281.57 291.87 282.80 295.00 283.60 C298.13 284.40 300.33 284.97 303.00 285.30 C305.67 285.63 308.42 285.93 311.00 285.60 C313.58 285.27 315.87 284.57 318.50 283.30 C321.13 282.03 324.88 279.42 326.80 278.00 C328.72 276.58 327.38 276.83 330.00 274.80 C332.62 272.77 338.33 268.77 342.50 265.80 C346.67 262.83 350.83 259.50 355.00 257.00 C359.17 254.50 363.95 252.05 367.50 250.80 C371.05 249.55 373.47 249.38 376.30 249.50 C379.13 249.62 382.10 249.83 384.50 251.50 C386.90 253.17 388.98 256.50 390.70 259.50 C392.42 262.50 393.68 266.17 394.80 269.50 C395.92 272.83 396.62 276.25 397.40 279.50 C398.18 282.75 399.15 287.42 399.50 289.00" stroke="#0000aa" stroke-width="1.7"/>
<path d="M151.00 290.20 C151.50 290.43 153.00 291.32 154.00 291.60 C155.00 291.88 156.08 292.07 157.00 291.90 C157.92 291.73 158.88 290.35 159.50 290.60 C160.12 290.85 160.20 292.35 160.70 293.40 C161.20 294.45 161.92 296.13 162.50 296.90 C163.08 297.67 163.53 297.95 164.20 298.00 C164.87 298.05 165.85 297.60 166.50 297.20 C167.15 296.80 167.52 296.32 168.10 295.60 C168.68 294.88 169.27 292.90 170.00 292.90 C170.73 292.90 171.67 294.88 172.50 295.60 C173.33 296.32 174.08 296.82 175.00 297.20 C175.92 297.58 177.00 297.75 178.00 297.90 C179.00 298.05 179.70 298.25 181.00 298.10 C182.30 297.95 184.18 297.38 185.80 297.00 C187.42 296.62 189.05 296.00 190.70 295.80 C192.35 295.60 194.05 295.70 195.70 295.80 C197.35 295.90 198.97 296.18 200.60 296.40 C202.23 296.62 203.43 296.93 205.50 297.10 C207.57 297.27 210.32 297.12 213.00 297.40 C215.68 297.68 218.77 298.32 221.60 298.80 C224.43 299.28 226.80 299.68 230.00 300.30 C233.20 300.92 237.18 301.92 240.80 302.50 C244.42 303.08 248.08 303.52 251.70 303.80 C255.32 304.08 258.88 304.33 262.50 304.20 C266.12 304.07 269.78 303.72 273.40 303.00 C277.02 302.28 280.60 300.93 284.20 299.90 C287.80 298.87 291.38 297.57 295.00 296.80 C298.62 296.03 303.07 295.47 305.90 295.30 C308.73 295.13 309.85 295.42 312.00 295.80 C314.15 296.18 316.33 296.40 318.80 297.60 C321.27 298.80 323.23 300.77 326.80 303.00 C330.37 305.23 335.50 307.95 340.20 311.00 C344.90 314.05 350.53 318.42 355.00 321.30 C359.47 324.18 363.45 326.72 367.00 328.30 C370.55 329.88 373.38 330.60 376.30 330.80 C379.22 331.00 382.10 330.97 384.50 329.50 C386.90 328.03 388.98 324.92 390.70 322.00 C392.42 319.08 393.68 315.75 394.80 312.00 C395.92 308.25 396.62 303.33 397.40 299.50 C398.18 295.67 399.15 290.75 399.50 289.00" stroke="#0000aa" stroke-width="1.7"/>
<path d="M151.00 290.20 C151.80 290.70 154.50 292.47 155.80 293.20 C157.10 293.93 157.98 294.45 158.80 294.60 C159.62 294.75 159.88 294.87 160.70 294.10 C161.52 293.33 162.87 291.63 163.70 290.00 C164.53 288.37 164.97 285.68 165.70 284.30 C166.43 282.92 167.28 282.10 168.10 281.70 C168.92 281.30 169.70 281.48 170.60 281.90 C171.50 282.32 172.60 283.63 173.50 284.20 C174.40 284.77 174.92 284.87 176.00 285.30 C177.08 285.73 178.83 286.63 180.00 286.80 C181.17 286.97 182.03 286.80 183.00 286.30 C183.97 285.80 184.52 284.52 185.80 283.80 C187.08 283.08 189.05 282.40 190.70 282.00 C192.35 281.60 193.23 281.45 195.70 281.40 C198.17 281.35 202.12 281.65 205.50 281.70 C208.88 281.75 213.32 281.85 216.00 281.70 C218.68 281.55 219.27 280.75 221.60 280.80 C223.93 280.85 226.80 281.53 230.00 282.00 C233.20 282.47 237.18 283.15 240.80 283.60 C244.42 284.05 248.08 284.80 251.70 284.70 C255.32 284.60 258.88 284.15 262.50 283.00 C266.12 281.85 269.78 279.33 273.40 277.80 C277.02 276.27 280.60 275.00 284.20 273.80 C287.80 272.60 292.37 271.47 295.00 270.60 C297.63 269.73 296.93 269.37 300.00 268.60 C303.07 267.83 308.93 266.60 313.40 266.00 C317.87 265.40 322.33 265.08 326.80 265.00 C331.27 264.92 335.73 264.75 340.20 265.50 C344.67 266.25 349.13 267.50 353.60 269.50 C358.07 271.50 363.22 275.62 367.00 277.50 C370.78 279.38 373.50 280.85 376.30 280.80 C379.10 280.75 381.52 278.23 383.80 277.20 C386.08 276.17 388.25 274.83 390.00 274.60 C391.75 274.37 393.08 274.57 394.30 275.80 C395.52 277.03 396.43 279.80 397.30 282.00 C398.17 284.20 399.13 287.83 399.50 289.00" stroke="#ad5606" stroke-width="1.7"/>
<path d="M151.00 290.20 C151.42 290.00 152.53 289.72 153.50 289.00 C154.47 288.28 155.75 286.47 156.80 285.90 C157.85 285.33 158.98 285.45 159.80 285.60 C160.62 285.75 161.05 286.07 161.70 286.80 C162.35 287.53 163.03 288.62 163.70 290.00 C164.37 291.38 164.97 293.67 165.70 295.10 C166.43 296.53 167.28 298.02 168.10 298.60 C168.92 299.18 169.70 299.02 170.60 298.60 C171.50 298.18 172.60 296.92 173.50 296.10 C174.40 295.28 174.75 293.95 176.00 293.70 C177.25 293.45 179.37 294.20 181.00 294.60 C182.63 295.00 184.18 295.60 185.80 296.10 C187.42 296.60 189.05 297.30 190.70 297.60 C192.35 297.90 193.23 297.85 195.70 297.90 C198.17 297.95 202.12 297.78 205.50 297.90 C208.88 298.02 213.32 298.32 216.00 298.60 C218.68 298.88 219.27 299.57 221.60 299.60 C223.93 299.63 226.80 299.30 230.00 298.80 C233.20 298.30 237.18 297.07 240.80 296.60 C244.42 296.13 248.08 295.82 251.70 296.00 C255.32 296.18 258.88 296.87 262.50 297.70 C266.12 298.53 269.78 299.55 273.40 301.00 C277.02 302.45 280.60 304.78 284.20 306.40 C287.80 308.02 292.37 309.77 295.00 310.70 C297.63 311.63 296.93 311.28 300.00 312.00 C303.07 312.72 308.93 314.40 313.40 315.00 C317.87 315.60 322.33 315.73 326.80 315.60 C331.27 315.47 335.73 315.15 340.20 314.20 C344.67 313.25 349.13 311.87 353.60 309.90 C358.07 307.93 363.22 304.30 367.00 302.40 C370.78 300.50 373.50 298.77 376.30 298.50 C379.10 298.23 381.52 299.83 383.80 300.80 C386.08 301.77 388.25 303.90 390.00 304.30 C391.75 304.70 393.08 304.42 394.30 303.20 C395.52 301.98 396.43 299.37 397.30 297.00 C398.17 294.63 399.13 290.33 399.50 289.00" stroke="#ad5606" stroke-width="1.7"/>
<path d="M71.4 290.2 L151.5 290.2" stroke="#ad5606" stroke-width="1.9"/>
</g>
<g stroke="#767676" stroke-width="0.6" fill="none">
<rect x="61.5" y="22.2" width="344.9" height="213.3"/>
<rect x="61.5" y="237.4" width="344.9" height="105.99999999999997"/>
<path d="M68.4 22.2v4.2 M68.4 235.5v-4.2 M68.4 237.4v2.7 M68.4 343.4v-2.7"/>
<path d="M115.7 22.2v4.2 M115.7 235.5v-4.2 M115.7 237.4v2.7 M115.7 343.4v-2.7"/>
<path d="M151.7 22.2v4.2 M151.7 235.5v-4.2 M151.7 237.4v2.7 M151.7 343.4v-2.7"/>
<path d="M201.5 22.2v4.2 M201.5 235.5v-4.2 M201.5 237.4v2.7 M201.5 343.4v-2.7"/>
<path d="M275.9 22.2v4.2 M275.9 235.5v-4.2 M275.9 237.4v2.7 M275.9 343.4v-2.7"/>
<path d="M356 22.2v4.2 M356 235.5v-4.2 M356 237.4v2.7 M356 343.4v-2.7"/>
<path d="M399.4 22.2v4.2 M399.4 235.5v-4.2 M399.4 237.4v2.7 M399.4 343.4v-2.7"/>
<path d="M61.5 224.80h2.5 M406.4 224.80h-2.5"/>
<path d="M61.5 213.50h4 M406.4 213.50h-4"/>
<path d="M61.5 202.20h2.5 M406.4 202.20h-2.5"/>
<path d="M61.5 190.90h2.5 M406.4 190.90h-2.5"/>
<path d="M61.5 179.60h2.5 M406.4 179.60h-2.5"/>
<path d="M61.5 168.30h2.5 M406.4 168.30h-2.5"/>
<path d="M61.5 157.00h4 M406.4 157.00h-4"/>
<path d="M61.5 145.70h2.5 M406.4 145.70h-2.5"/>
<path d="M61.5 134.40h2.5 M406.4 134.40h-2.5"/>
<path d="M61.5 123.10h2.5 M406.4 123.10h-2.5"/>
<path d="M61.5 111.80h2.5 M406.4 111.80h-2.5"/>
<path d="M61.5 100.50h4 M406.4 100.50h-4"/>
<path d="M61.5 89.20h2.5 M406.4 89.20h-2.5"/>
<path d="M61.5 77.90h2.5 M406.4 77.90h-2.5"/>
<path d="M61.5 66.60h2.5 M406.4 66.60h-2.5"/>
<path d="M61.5 55.30h2.5 M406.4 55.30h-2.5"/>
<path d="M61.5 44.00h4 M406.4 44.00h-4"/>
<path d="M61.5 32.70h2.5 M406.4 32.70h-2.5"/>
<path d="M61.5 338.30h3.4 M406.4 338.30h-3.4"/>
<path d="M61.5 333.49h2.3 M406.4 333.49h-2.3"/>
<path d="M61.5 328.68h2.3 M406.4 328.68h-2.3"/>
<path d="M61.5 323.87h2.3 M406.4 323.87h-2.3"/>
<path d="M61.5 319.06h2.3 M406.4 319.06h-2.3"/>
<path d="M61.5 314.25h3.4 M406.4 314.25h-3.4"/>
<path d="M61.5 309.44h2.3 M406.4 309.44h-2.3"/>
<path d="M61.5 304.63h2.3 M406.4 304.63h-2.3"/>
<path d="M61.5 299.82h2.3 M406.4 299.82h-2.3"/>
<path d="M61.5 295.01h2.3 M406.4 295.01h-2.3"/>
<path d="M61.5 290.20h3.4 M406.4 290.20h-3.4"/>
<path d="M61.5 285.39h2.3 M406.4 285.39h-2.3"/>
<path d="M61.5 280.58h2.3 M406.4 280.58h-2.3"/>
<path d="M61.5 275.77h2.3 M406.4 275.77h-2.3"/>
<path d="M61.5 270.96h2.3 M406.4 270.96h-2.3"/>
<path d="M61.5 266.15h3.4 M406.4 266.15h-3.4"/>
<path d="M61.5 261.34h2.3 M406.4 261.34h-2.3"/>
<path d="M61.5 256.53h2.3 M406.4 256.53h-2.3"/>
<path d="M61.5 251.72h2.3 M406.4 251.72h-2.3"/>
<path d="M61.5 246.91h2.3 M406.4 246.91h-2.3"/>
<path d="M61.5 242.10h3.4 M406.4 242.10h-3.4"/>
</g>
<g font-family="Liberation Sans, sans-serif" font-size="15" fill="#000" opacity="0.999">
<text transform="translate(59.2,50.2) scale(1,1.04)" font-size="15" text-anchor="end">100</text>
<text transform="translate(59.2,106.7) scale(1,1.04)" font-size="15" text-anchor="end">50</text>
<text transform="translate(59.2,163.2) scale(1,1.04)" font-size="15" text-anchor="end">0</text>
<text transform="translate(59.2,219.7) scale(1,1.04)" font-size="15" text-anchor="end">50</text>
<path d="M32.42 215.40H40.12" stroke="#000" stroke-width="1.25"/>
<text transform="translate(59.2,248.9) scale(1,1.04)" font-size="15" text-anchor="end">10</text>
<text transform="translate(59.2,272.95) scale(1,1.04)" font-size="15" text-anchor="end">5</text>
<text transform="translate(59.2,297.0) scale(1,1.04)" font-size="15" text-anchor="end">0</text>
<text transform="translate(59.2,321.05) scale(1,1.04)" font-size="15" text-anchor="end">5</text>
<path d="M40.76 316.75H48.46" stroke="#000" stroke-width="1.25"/>
<text transform="translate(59.2,345.09999999999997) scale(1,1.04)" font-size="15" text-anchor="end">10</text>
<path d="M32.42 340.80H40.12" stroke="#000" stroke-width="1.25"/>
<text transform="translate(68.5,361.2) scale(1,1.04)" font-size="15" text-anchor="middle">0</text>
<text transform="translate(116.4,361.2) scale(1,1.04)" font-size="15" text-anchor="middle">0.5</text>
<text transform="translate(151.6,361.2) scale(1,1.04)" font-size="15" text-anchor="middle">1.0</text>
<text transform="translate(201.4,361.2) scale(1,1.04)" font-size="15" text-anchor="middle">2.0</text>
<text transform="translate(276,361.2) scale(1,1.04)" font-size="15" text-anchor="middle">5.0</text>
<text transform="translate(356.7,361.2) scale(1,1.04)" font-size="15" text-anchor="middle">20</text>
<text transform="translate(399.6,362.1) scale(1.22,1.08)" font-size="15" text-anchor="middle">∞</text>
<text transform="translate(234.3,385.8) scale(1,1.04)" font-size="15" text-anchor="middle">z</text>
<text transform="translate(326.6,50) scale(1,1.04)" font-size="15">LME to <tspan font-style="italic">z</tspan><tspan font-size="10.5" dx="-0.3" dy="-5.3">7</tspan></text>
<text transform="translate(330.4,71.8) scale(1,1.04)" font-size="15">THR to</text>
<text transform="translate(382.1,71.8) scale(1.2,1.04)" font-size="15">z</text>
<path d="M382.5 62.4h8.1" stroke="#000" stroke-width="1.3"/>
<text transform="translate(120.6,94.6) scale(1,1.04)" font-size="15" fill="#0000aa">Re</text>
<text transform="translate(240.8,94.6) scale(1,1.04)" font-size="15" fill="#ad5606">Im</text>
<text transform="translate(257.8,330.7) scale(1,1.04)" font-size="15" fill="#11aa11">Re</text>
<text transform="translate(301.8,338.7) scale(1,1.04)" font-size="15" fill="#aa0a14">Im</text>
<path d="M67.6 257H95.7" stroke="#000" stroke-width="1.6"/>
<path d="M67.6 271H95.7" stroke="#000" stroke-width="1.6" stroke-dasharray="5.4 2.17"/>
<text transform="translate(97.3,261.6) scale(1,1.04)" font-size="14.6">LME to <tspan font-style="italic">z</tspan><tspan font-size="10" dx="-0.3" dy="-5">7</tspan></text>
<text transform="translate(97.3,275.7) scale(1,1.04)" font-size="14.6">LME to <tspan font-style="italic">z</tspan><tspan font-size="10" dx="-0.3" dy="-5">6</tspan></text>
<text transform="translate(18.6,315.6) rotate(-90) scale(1.07,1.04)" font-size="15">Δ</text>
<text transform="translate(18.6,147.1) rotate(-90) scale(1,1.04)" font-size="15">F</text>
<g transform="translate(18.6,147.1) rotate(-90)">
<text transform="translate(8.5,4.6) scale(1,1.04)" font-size="11.3">Δ</text>
<text transform="translate(8.6,-8.6) scale(1,1.04)" font-size="10.8">(2),fin</text>
</g>
<text transform="translate(18.6,304.0) rotate(-90) scale(1,1.04)" font-size="15">F</text>
<g transform="translate(18.6,304.0) rotate(-90)">
<text transform="translate(9.0,4.6) scale(1,1.04)" font-size="11.3">Δ</text>
<text transform="translate(8.6,-8.6) scale(1,1.04)" font-size="10.8">(2),fin</text>
</g>
</g>
</svg>
</body></html>
